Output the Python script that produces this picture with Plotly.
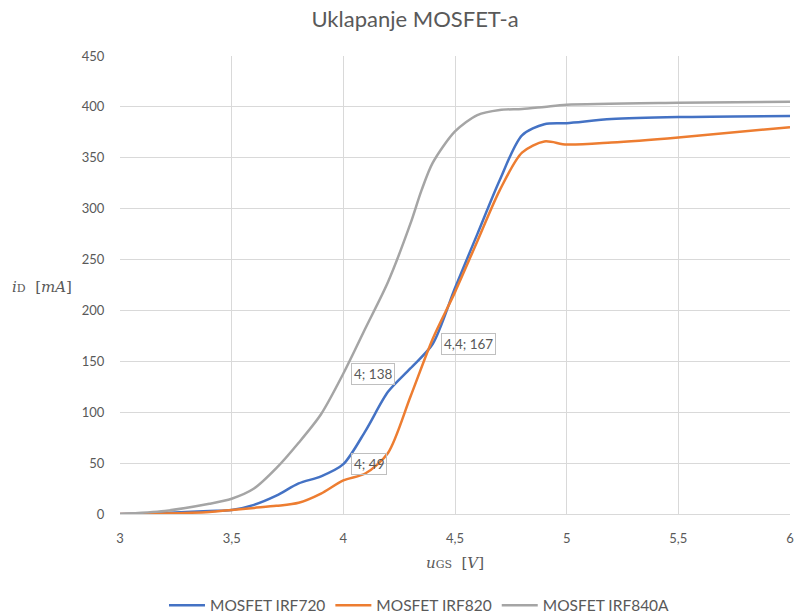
import plotly.graph_objects as go

# Data
x_irf720 = [3, 3.2, 3.4, 3.5, 3.6, 3.7, 3.8, 3.9, 4, 4.1, 4.2, 4.3, 4.4, 4.5, 4.6, 4.7, 4.8, 4.9, 5, 5.2, 5.5, 6]
y_irf720 = [0, 1, 3, 4, 9, 18, 30, 37, 49, 82, 120, 143, 167, 222, 275, 328, 372, 383, 384, 388, 390, 391]

x_irf820 = [3, 3.2, 3.4, 3.5, 3.6, 3.7, 3.8, 3.9, 4, 4.1, 4.2, 4.3, 4.4, 4.5, 4.6, 4.7, 4.8, 4.9, 5, 5.2, 5.5, 6]
y_irf820 = [0, 0.5, 2, 4, 6, 8, 11, 20, 33, 40, 60, 115, 172, 218, 268, 318, 355, 366, 363, 365, 370, 380]

x_irf840a = [3, 3.2, 3.4, 3.5, 3.6, 3.7, 3.8, 3.9, 4, 4.1, 4.2, 4.3, 4.35, 4.4, 4.5, 4.6, 4.7, 4.8, 4.9, 5, 5.5, 6]
y_irf840a = [0, 3, 10, 15, 25, 45, 70, 98, 138, 183, 228, 285, 318, 345, 376, 392, 397, 398, 400, 402, 404, 405]

series_names = ["MOSFET IRF720", "MOSFET IRF820", "MOSFET IRF840A"]
series_colors = ["#4472C4", "#ED7D31", "#A5A5A5"]

label_x = [4, 4, 4.4]
label_y = [138, 49, 167]
label_text = ["4; 138", "4; 49", "4,4; 167"]

x_ticks = [3, 3.5, 4, 4.5, 5, 5.5, 6]
y_ticks = [0, 50, 100, 150, 200, 250, 300, 350, 400, 450]

txt = "#595959"
grid = "#D9D9D9"

fig = go.Figure()
for xs, ys, name, col in zip([x_irf720, x_irf820, x_irf840a],
                             [y_irf720, y_irf820, y_irf840a],
                             series_names, series_colors):
    fig.add_trace(go.Scatter(x=xs, y=ys, name=name, mode="lines",
                             line=dict(color=col, width=2.5, shape="spline", smoothing=0.8)))

for lx, ly, lt in zip(label_x, label_y, label_text):
    fig.add_annotation(x=lx, y=ly, text=lt, showarrow=False, xanchor="left", yanchor="middle",
                       xshift=8, font=dict(family="Lato, sans-serif", size=13.5, color=txt),
                       bordercolor="#BFBFBF", borderwidth=1, borderpad=2, bgcolor="rgba(255,255,255,0)")

fig.add_annotation(xref="paper", yref="paper", x=-0.117, y=0.495, showarrow=False,
                   xanchor="center", yanchor="middle",
                   text="<i>i</i><span style='font-size:11px'>D</span>  [<i>mA</i>]",
                   font=dict(family="DejaVu Serif, serif", size=15, color=txt))

fig.update_layout(
    width=802, height=616,
    margin=dict(l=120, r=12, t=56, b=102, autoexpand=False),
    paper_bgcolor="white", plot_bgcolor="white",
    separators=", ",
    title=dict(text="Uklapanje MOSFET-a", x=415 / 802, xanchor="center", y=1 - 19 / 616, yanchor="middle",
               xref="container", font=dict(family="Lato, sans-serif", size=22, color=txt)),
    font=dict(family="Lato, sans-serif", size=13, color=txt),
    xaxis=dict(range=[3, 6], tickvals=x_ticks, showgrid=True, gridcolor=grid, gridwidth=1,
               zeroline=False, showline=True, linecolor=grid, ticks="outside", ticklen=12,
               tickcolor="rgba(0,0,0,0)", tickfont=dict(size=13, color=txt),
               title=dict(text="<i>u</i><span style='font-size:11px'>GS</span>  [<i>V</i>]",
                          font=dict(family="DejaVu Serif, serif", size=15, color=txt), standoff=12)),
    yaxis=dict(range=[0, 450], tickvals=y_ticks, showgrid=True, gridcolor=grid, gridwidth=1,
               zeroline=False, showline=False, ticks="outside", ticklen=12, tickcolor="rgba(0,0,0,0)",
               tickfont=dict(size=13, color=txt)),
    legend=dict(orientation="h", x=0.447, xanchor="center", y=-0.2, yanchor="middle",
                font=dict(size=15.5, color=txt), itemwidth=36, tracegroupgap=0),
    showlegend=True,
)

# remove the default 8px page margin so the figure sits at the window's top-left corner
fig.write_html("out.html", config={"displayModeBar": False},
               post_script="document.body.style.margin='0';")
